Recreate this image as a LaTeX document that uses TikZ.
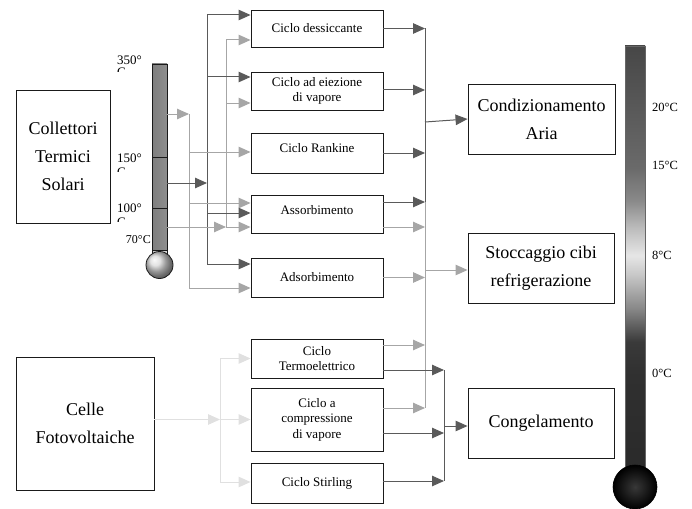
\documentclass[tikz,border=0pt]{standalone}
\usepackage{fontspec}
\setmainfont{Liberation Serif}
\usetikzlibrary{arrows.meta}
\definecolor{cdark}{HTML}{5A5A5A}
\definecolor{clight}{HTML}{A6A6A6}
\definecolor{cpale}{HTML}{E0E0E0}
\definecolor{cbox}{HTML}{1A1A1A}
\definecolor{tA}{HTML}{2A2A2A}
\definecolor{tB}{HTML}{303030}
\definecolor{tC}{HTML}{3A3A3A}
\definecolor{tD}{HTML}{888888}
\definecolor{tE}{HTML}{C8C8C8}
\definecolor{tF}{HTML}{E6E6E6}
\definecolor{tG}{HTML}{BBBBBB}
\definecolor{tH}{HTML}{8A8A8A}
\definecolor{tI}{HTML}{6A6A6A}
\definecolor{tJ}{HTML}{474747}
\definecolor{tL1}{HTML}{7E7E7E}
\definecolor{tL2}{HTML}{B8B8B8}
\definecolor{tL3}{HTML}{8E8E8E}
\pgfdeclareverticalshading{coldtherm}{100bp}{color(0bp)=(tA); color(25bp)=(tA); color(36.4bp)=(tB); color(40.3bp)=(tC); color(44.2bp)=(tD); color(48.2bp)=(tE); color(50.4bp)=(tF); color(53.7bp)=(tG); color(56.8bp)=(tH); color(60.7bp)=(tI); color(75bp)=(tJ); color(100bp)=(tJ)}
\newcommand\upby[2]{\raisebox{#1}[\height][\depth]{#2}}
\begin{document}
\begin{tikzpicture}[x=1pt,y=-1pt,
  box/.style={draw=cbox,line width=0.9pt,inner sep=0pt,align=center,fill=white},
  bigtxt/.style={font=\fontsize{18}{28}\selectfont},
  smtxt/.style={font=\fontsize{13}{15.5}\selectfont},
  sbox/.style={box,smtxt,minimum width=132pt},
  rbox/.style={box,bigtxt,minimum width=146pt,minimum height=70pt},
  darr/.style={draw=cdark,line width=1pt,-{Triangle[length=12pt,width=10.5pt]}},
  larr/.style={draw=clight,line width=1pt,-{Triangle[length=12pt,width=10.5pt]}},
  parr/.style={draw=cpale,line width=1pt,-{Triangle[length=12pt,width=10.5pt]}},
  dbus/.style={draw=cdark,line width=1pt},
  lbus/.style={draw=clight,line width=1pt},
  pbus/.style={draw=cpale,line width=1pt},
  tlab/.style={font=\fontsize{13}{13}\selectfont,inner sep=0pt},
  rlab/.style={font=\fontsize{12.5}{13}\selectfont,inner sep=0pt,anchor=base west}
]
\useasboundingbox (0,0) rectangle (692,508);

% ---------- left boxes
\node[box,bigtxt,minimum width=94pt,minimum height=133pt] (coll) at (63,156.5) {Collettori\\Termici\\Solari};
\node[box,bigtxt,minimum width=138pt,minimum height=133pt] (celle) at (85,423.5) {Celle\\Fotovoltaiche};

% ---------- middle boxes
\node[sbox,minimum height=37pt] (dess) at (317,28.5) {Ciclo dessiccante};
\node[sbox,minimum height=38pt] (eiez) at (317,91) {Ciclo ad eiezione\\di vapore};
\node[sbox,minimum height=40pt] (rank) at (317,153) {\upby{5pt}{Ciclo Rankine}};
\node[sbox,minimum height=38pt] (assorb) at (317,214) {\upby{4pt}{Assorbimento}};
\node[sbox,minimum height=39pt] (adsorb) at (317,277.5) {Adsorbimento};
\node[sbox,minimum height=39pt] (termo) at (317,358.5) {Ciclo\\Termoelettrico};
\node[sbox,minimum height=63pt] (compr) at (317,419.5) {Ciclo a\\compressione\\di vapore};
\node[sbox,minimum height=40pt] (stirl) at (317,483) {Ciclo Stirling};

% ---------- right boxes
\node[rbox,minimum width=147pt] (cond) at (541.5,119) {Condizionamento\\Aria};
\node[rbox] (stocc) at (541,268) {Stoccaggio cibi\\refrigerazione};
\node[rbox] (cong) at (541,423) {Congelamento};

% ---------- left thermometer
\shade[left color=tL1, middle color=tL2, right color=tL3] (152,64) rectangle (167,250);
\shade[left color=gray!40, middle color=gray!12, right color=gray!30] (152,250) rectangle (167,258);
\draw[cbox,line width=0.8pt] (152,64) rectangle (167,258);
\foreach \yy in {157,208,250} \draw[cbox,line width=0.9pt] (152,\yy) -- (167,\yy);
\shade[ball color=gray!30] (159.5,265) circle (13.5);
\draw[cbox,line width=0.8pt] (159.5,265) circle (13.5);

\node[tlab,anchor=base west] (l350) at (117,65) {350°};
\begin{scope}\clip (110,66) rectangle (140,72); \node[tlab,anchor=base west] (c350) at (117,77) {C};\end{scope}
\node[tlab,anchor=base west] (l150) at (117,162) {150°};
\begin{scope}\clip (110,163) rectangle (140,171); \node[tlab,anchor=base west] (c150) at (117,176) {C};\end{scope}
\node[tlab,anchor=base west] (l100) at (117,212) {100°};
\begin{scope}\clip (110,213) rectangle (140,221); \node[tlab,anchor=base west] (c100) at (117,226) {C};\end{scope}
\node[tlab,anchor=base east,font=\fontsize{12}{12}\selectfont] (l70) at (151,243) {70°C};

% ---------- right thermometer
\shade[shading=coldtherm] (625,46) rectangle (645,472);
\draw[black!60,line width=0.6pt] (625,472) -- (625,46) -- (645,46) -- (645,472);
\shade[inner color=black!78, outer color=black] (635,487) circle (22);
\draw[black,line width=0.6pt] (635,487) circle (22);
\node[rlab] (r20) at (652,111) {20°C};
\node[rlab] (r15) at (652,169) {15°C};
\node[rlab] (r8) at (652,259) {8°C};
\node[rlab] (r0) at (652,377) {0°C};

% ---------- thermometer outputs and buses
\coordinate (thA) at (167,114); \coordinate (busA) at (189,114);
\coordinate (thB) at (167,183); \coordinate (busB) at (207,183);
\coordinate (thC) at (167,227); \coordinate (busC) at (226,227);
\coordinate (a1) at (189,152); \coordinate (a2) at (189,203); \coordinate (a3) at (189,288);
\coordinate (b0) at (207,15); \coordinate (b1) at (207,77); \coordinate (b2) at (207,213); \coordinate (b3) at (207,264);
\coordinate (c0) at (226,40); \coordinate (c1) at (226,103);

\draw[lbus] (busA) -- (a3);
\draw[dbus] (b0) -- (b3);
\draw[lbus] (c0) -- (busC);
\draw[larr] (thA) -- (busA);
\draw[darr] (thB) -- (busB);
\draw[larr] (thC) -- (busC);

\draw[larr] (a1) -- (a1 -| rank.west);
\draw[larr] (a2) -- (a2 -| assorb.west);
\draw[larr] (a3) -- (a3 -| adsorb.west);
\draw[darr] (b0) -- (b0 -| dess.west);
\draw[darr] (b1) -- (b1 -| eiez.west);
\draw[darr] (b2) -- (b2 -| assorb.west);
\draw[darr] (b3) -- (b3 -| adsorb.west);
\draw[larr] (c0) -- (c0 -| dess.west);
\draw[larr] (c1) -- (c1 -| eiez.west);
\draw[larr] (busC) -- (busC -| assorb.west);

% ---------- PV bus
\coordinate (pvx) at (220,0);
\coordinate (p1) at (220,358.5); \coordinate (p2) at (220,419.5); \coordinate (p3) at (220,482);
\draw[pbus] (p1) -- (p3);
\draw[parr] ([yshift=4pt]celle.east) -- ([yshift=4pt]celle.east -| pvx);
\draw[parr] (p1) -- (p1 -| termo.west);
\draw[parr] (p2) -- (p2 -| compr.west);
\draw[parr] (p3) -- (p3 -| stirl.west);

% ---------- output buses
\coordinate (rx) at (425,0); \coordinate (gx) at (444,0);
\coordinate (r0) at (425,28.5); \coordinate (rm) at (425,202); \coordinate (rl) at (425,408);
\draw[dbus] (r0) -- (rm);
\draw[lbus] (rm) -- (rl);
\draw[darr] (dess.east) -- (dess.east -| rx);
\draw[darr] ([yshift=1pt]eiez.east) -- ([yshift=1pt]eiez.east -| rx);
\draw[darr] (rank.east) -- (rank.east -| rx);
\draw[darr] ([yshift=12pt]assorb.east) -- ([yshift=12pt]assorb.east -| rx);
\draw[larr] ([yshift=-13pt]assorb.east) -- ([yshift=-13pt]assorb.east -| rx);
\draw[larr] (adsorb.east) -- (adsorb.east -| rx);
\draw[larr] ([yshift=13.5pt]termo.east) -- ([yshift=13.5pt]termo.east -| rx);
\draw[larr] ([yshift=11.5pt]compr.east) -- ([yshift=11.5pt]compr.east -| rx);

\coordinate (g0) at (444,370); \coordinate (g1) at (444,481);
\draw[dbus] (g0) -- (g1);
\draw[darr] ([yshift=-11.5pt]termo.east) -- ([yshift=-11.5pt]termo.east -| gx);
\draw[darr] ([yshift=-13.5pt]compr.east) -- ([yshift=-13.5pt]compr.east -| gx);
\draw[darr] ([yshift=2pt]stirl.east) -- ([yshift=2pt]stirl.east -| gx);

\coordinate (ro1) at (425,122); \coordinate (ro2) at (425,270); \coordinate (go) at (444,426);
\draw[darr] (ro1) -- (cond.west);
\draw[larr] (ro2) -- (ro2 -| stocc.west);
\draw[darr] (go) -- (go -| cong.west);
\end{tikzpicture}
\end{document}
